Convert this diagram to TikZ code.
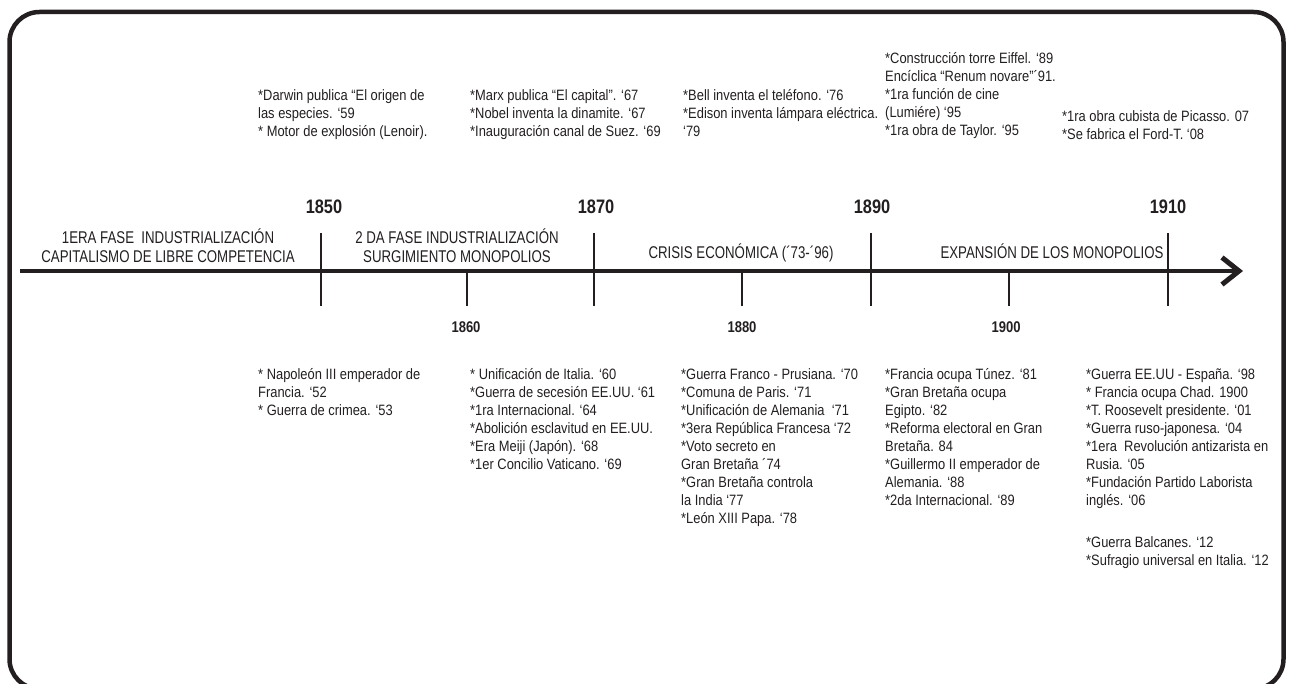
\documentclass[tikz,border=0pt]{standalone}
\usepackage{fontspec}
\usetikzlibrary{arrows.meta}
\setmainfont{Liberation Sans}
\newfontfamily\evfont{Liberation Sans}[FakeStretch=0.86]
\newfontfamily\phfont{Liberation Sans}[FakeStretch=0.78]
\newfontfamily\yrfont{Liberation Sans}[FakeStretch=0.84]
\definecolor{inkc}{HTML}{231F20}
\begin{document}
\begin{tikzpicture}[x=1pt,y=-1pt,
  frame/.style={draw=inkc,line width=4.5pt,rounded corners=30pt},
  axisline/.style={draw=inkc,line width=4pt,-{Straight Barb[length=17pt,width=27pt,line width=5pt]}},
  tickline/.style={draw=inkc,line width=2pt},
  ev/.style={anchor=north west,inner sep=0pt,align=left,text=inkc,
    font=\evfont\fontsize{15}{18}\selectfont,execute at begin node=\rule{0pt}{12.5pt}},
  ph/.style={anchor=north,inner sep=0pt,align=center,text=inkc,
    font=\phfont\fontsize{17}{19.5}\selectfont,execute at begin node=\rule{0pt}{16pt}},
  phone/.style={anchor=base,inner sep=0pt,text=inkc,font=\phfont\fontsize{17}{17}\selectfont},
  yrbig/.style={anchor=base,inner sep=0pt,text=inkc,font=\yrfont\bfseries\fontsize{19.5}{19.5}\selectfont},
  yrsmall/.style={anchor=base,inner sep=0pt,text=inkc,font=\yrfont\bfseries\fontsize{15.5}{15.5}\selectfont}]
\useasboundingbox (0,0) rectangle (1292,684);
\draw[frame] (9.5,12) rectangle (1283.5,689);
% axis
\coordinate (axs) at (20,271);
\coordinate (axe) at (1243,271);
\draw[axisline] (axs) -- (axe);
% major ticks
\foreach \n/\x in {a/321,b/594,c/871,d/1168}{
  \coordinate (mt\n) at (\x,233);
  \coordinate (mb\n) at (\x,306);
  \draw[tickline] (mt\n) -- (mb\n);
}
% minor ticks
\foreach \n/\x in {e/467,f/742,g/1009}{
  \coordinate (nt\n) at (\x,271);
  \coordinate (nb\n) at (\x,306);
  \draw[tickline] (nt\n) -- (nb\n);
}
% years
\node[yrbig] (y1850) at (324,214) {1850};
\node[yrbig] (y1870) at (596,214) {1870};
\node[yrbig] (y1890) at (872,214) {1890};
\node[yrbig] (y1910) at (1168,214) {1910};
\node[yrsmall] (y1860) at (466,332) {1860};
\node[yrsmall] (y1880) at (742,332) {1880};
\node[yrsmall] (y1900) at (1006,332) {1900};
% phases
\node[ph] (p1) at (168,228.5) {1ERA FASE\ \ INDUSTRIALIZACIÓN\\CAPITALISMO DE LIBRE COMPETENCIA};
\node[ph] (p2) at (457,228.5) {2 DA FASE INDUSTRIALIZACIÓN\\SURGIMIENTO MONOPOLIOS};
\node[phone] (p3) at (741,259) {CRISIS ECONÓMICA (´73-´96)};
\node[phone] (p4) at (1052,259) {EXPANSIÓN DE LOS MONOPOLIOS};
% top events
\node[ev] (t1) at (258,89.5) {*Darwin publica “El origen de\\las especies. ‘59\\* Motor de explosión (Lenoir).};
\node[ev] (t2) at (470,89.5) {*Marx publica “El capital”. ‘67\\*Nobel inventa la dinamite. ‘67\\*Inauguración canal de Suez. ‘69};
\node[ev] (t3) at (683,89.5) {*Bell inventa el teléfono. ‘76\\*Edison inventa lámpara eléctrica.\\‘79};
\node[ev] (t4) at (885,52.5) {*Construcción torre Eiffel. ‘89\\Encíclica “Renum novare”´91.\\*1ra función de cine\\(Lumiére) ‘95\\*1ra obra de Taylor. ‘95};
\node[ev] (t5) at (1062,110.5) {*1ra obra cubista de Picasso. 07\\*Se fabrica el Ford-T. ‘08};
% bottom events
\node[ev] (b1) at (258,368.5) {* Napoleón III emperador de\\Francia. ‘52\\* Guerra de crimea. ‘53};
\node[ev] (b2) at (470,368.5) {* Unificación de Italia. ‘60\\*Guerra de secesión EE.UU. ‘61\\*1ra Internacional. ‘64\\*Abolición esclavitud en EE.UU.\\*Era Meiji (Japón). ‘68\\*1er Concilio Vaticano. ‘69};
\node[ev] (b3) at (681,368.5) {*Guerra Franco - Prusiana. ‘70\\*Comuna de Paris. ‘71\\*Unificación de Alemania\ \ ‘71\\*3era República Francesa ‘72\\*Voto secreto en\\Gran Bretaña ´74\\*Gran Bretaña controla\\la India ‘77\\*León XIII Papa. ‘78};
\node[ev] (b4) at (885,368.5) {*Francia ocupa Túnez. ‘81\\*Gran Bretaña ocupa\\Egipto. ‘82\\*Reforma electoral en Gran\\Bretaña. 84\\*Guillermo II emperador de\\Alemania. ‘88\\*2da Internacional. ‘89};
\node[ev] (b5) at (1086,368.5) {*Guerra EE.UU - España. ‘98\\* Francia ocupa Chad. 1900\\*T. Roosevelt presidente. ‘01\\*Guerra ruso-japonesa. ‘04\\*1era\ \ Revolución antizarista en\\Rusia. ‘05\\*Fundación Partido Laborista\\inglés. ‘06\\[24pt]*Guerra Balcanes. ‘12\\*Sufragio universal en Italia. ‘12};
\end{tikzpicture}
\end{document}
